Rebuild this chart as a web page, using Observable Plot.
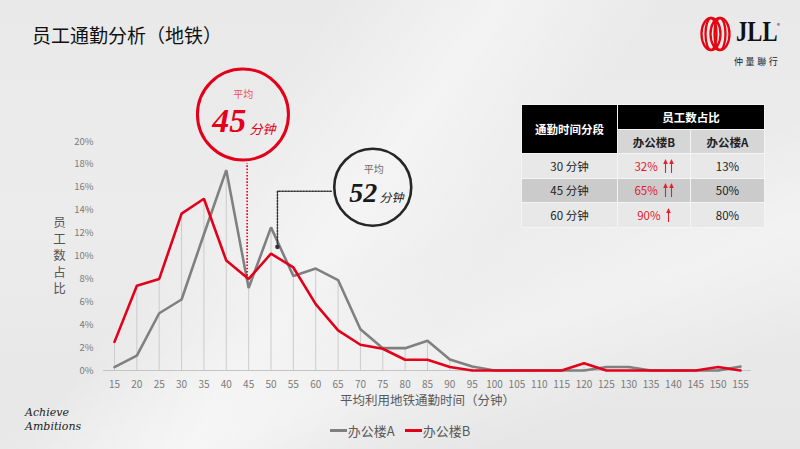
<!DOCTYPE html>
<html>
<head>
<meta charset="utf-8">
<script src="https://cdn.jsdelivr.net/npm/d3@7"></script>
<script src="https://cdn.jsdelivr.net/npm/@observablehq/plot@0.6"></script>
<style>
  html, body { margin: 0; padding: 0; }
  body { width: 800px; height: 449px; overflow: hidden; font-family: "Noto Sans CJK SC", "Noto Sans", sans-serif; }
  #wrap {
    position: relative; width: 800px; height: 449px; overflow: hidden;
    background:
      linear-gradient(125deg, rgba(255,255,255,0) 30%, rgba(255,255,255,0.45) 45%, rgba(255,255,255,0) 60%),
      linear-gradient(160deg, rgba(255,255,255,0) 55%, rgba(255,255,255,0.35) 70%, rgba(255,255,255,0) 85%),
      linear-gradient(180deg, #e9e9e9 0%, #ececec 50%, #e6e6e6 100%);
  }
  #wrap svg.plot { position: absolute; left: 0; top: 0; }
  .abs { position: absolute; }
  #title { left: 32px; top: 21px; font-size: 19px; color: #111; letter-spacing: 0px; }
  #ylabel { left: 52px; top: 216px; font-size: 12.5px; line-height: 14px; letter-spacing: 4px; color: #555; writing-mode: vertical-rl; text-orientation: upright; }
  #legend { top: 421px; left: 0; width: 800px; display: flex; justify-content: center; font-size: 13px; color: #595959; padding-left: 0px; }
  #legend .item { display: flex; align-items: center; margin: 0 5px; }
  #legend .sw { display: inline-block; width: 17px; height: 2.6px; margin-right: 1px; }
  #achieve { left: 25px; top: 406px; font-family: "DejaVu Serif", serif; font-style: italic; font-size: 11px; line-height: 14px; color: #222; }
  table#tbl { position: absolute; left: 521px; top: 104px; border-collapse: collapse; font-size: 11.5px; color: #222; }
  #tbl td, #tbl th { border: 1.2px solid #f4f4f4; padding: 0; text-align: center; }
  #tbl th { background: #000; color: #fff; font-weight: bold; }
  #tbl th.sub { background: #d6d6d6; color: #222; }
  #tbl .r1 td, #tbl .r3 td { background: #e8e8e8; }
  #tbl .r2 td { background: #cbcbcb; }
  #tbl .red { color: #e3202c; }
  #logo { left: 698px; top: 14px; }
  #jll { left: 736px; top: 14px; font-family: "Liberation Serif", serif; font-weight: bold; font-size: 29px; color: #111; transform: scaleX(0.78); transform-origin: left top; line-height: 34px; }
  #reg { left: 777px; top: 21px; font-size: 6px; color: #111; }
  #cn { left: 734px; top: 55px; font-size: 9px; letter-spacing: 2.6px; color: #222; }
</style>
</head>
<body>
<div id="wrap">
  <div id="title" class="abs">员工通勤分析（地铁）</div>
  <div id="ylabel" class="abs"></div>
  <div id="legend" class="abs"></div>
  <div id="achieve" class="abs">Achieve<br>Ambitions</div>
  <svg id="logo" class="abs" width="38" height="40" viewBox="698 14 38 40">
    <g fill="none" stroke="#e30613" stroke-width="2.3">
      <ellipse cx="711" cy="34" rx="9.5" ry="16"/>
      <ellipse cx="711" cy="34" rx="5.5" ry="16"/>
      <ellipse cx="720" cy="34" rx="9.5" ry="16"/>
      <ellipse cx="720" cy="34" rx="5.5" ry="16"/>
    </g>
  </svg>
  <div id="jll" class="abs">JLL</div>
  <div id="reg" class="abs">®</div>
  <div id="cn" class="abs">仲量聯行</div>
</div>
<script>
// ---------- data ----------
const minutes = [15,20,25,30,35,40,45,50,55,60,65,70,75,80,85,90,95,100,105,110,115,120,125,130,135,140,145,150,155];
const buildingA = [0.3,1.3,5.0,6.2,11.9,17.5,7.2,12.5,8.25,8.9,7.9,3.6,1.95,1.95,2.6,0.96,0.35,0,0,0,0,0,0.3,0.3,0,0,0,0,0.35];
const buildingB = [2.5,7.4,8.0,13.7,15.0,9.6,8.0,10.2,9.0,5.8,3.5,2.25,1.9,0.94,0.94,0.3,0,0,0,0,0,0.64,0,0,0,0,0,0.3,0];
const seriesNames = ["办公楼A", "办公楼B"];
const seriesColors = ["#808080", "#e2001a"];
const yTicks = [0,2,4,6,8,10,12,14,16,18,20];
const xLabel = "平均利用地铁通勤时间（分钟）";
const yLabel = "员工数占比";
const avgLabel = "平均";
const avgUnit = "分钟";
const avgB = 45;   // 办公楼B average
const avgA = 52;   // 办公楼A average

const tableHead = ["通勤时间分段", "员工数占比"];
const tableSubHead = ["办公楼B", "办公楼A"];
const tableRows = ["30 分钟", "45 分钟", "60 分钟"];
const tableB = ["32%", "65%", "90%"];
const tableA = ["13%", "50%", "80%"];
const tableArrows = [2, 2, 1];

// ---------- derived ----------
const rows = [];
minutes.forEach((m, i) => {
  rows.push({x: m, y: buildingA[i], s: seriesNames[0]});
  rows.push({x: m, y: buildingB[i], s: seriesNames[1]});
});
const drops = minutes.map((m, i) => ({x: m, y: Math.max(buildingA[i], buildingB[i])}));
function interp(xs, ys, v) {
  for (let i = 0; i < xs.length - 1; i++) {
    if (v >= xs[i] && v <= xs[i+1]) {
      const t = (v - xs[i]) / (xs[i+1] - xs[i]);
      return ys[i] + t * (ys[i+1] - ys[i]);
    }
  }
  return 0;
}
const avgBy = interp(minutes, buildingB, avgB);
const avgAy = interp(minutes, buildingA, avgA);

const red = seriesColors[1];
const dark = "#262626";
const serif = "'Liberation Serif', 'DejaVu Serif', serif";
const cjk = "'Noto Sans CJK SC', sans-serif";

// leader-line layout (in chart units): where the dotted leaders meet the circles
const leaderTopB = 18.1;
const leaderTopA = 15.66;
const leaderEndA = 64.2;

const chart = Plot.plot({
  width: 800, height: 449,
  marginLeft: 114, marginRight: 60, marginTop: 141, marginBottom: 79,
  style: {background: "transparent", fontFamily: cjk, overflow: "visible"},
  x: {domain: [15, 155]},
  y: {domain: [0, 20]},
  marks: [
    Plot.ruleX(drops, {x: "x", y1: 0, y2: "y", stroke: "#cccccc", strokeWidth: 1}),
    Plot.ruleY([0], {stroke: "#c4c4c4", strokeWidth: 1, insetLeft: -11, insetRight: -11}),
    Plot.axisX({ticks: minutes, tickFormat: d => String(d), tickSize: 0, tickPadding: 10, fontSize: 10, fill: "#7a7a7a", label: null}),
    Plot.axisY({ticks: yTicks, tickFormat: d => d + "%", tickSize: 0, tickPadding: 21, fontSize: 9.5, fill: "#7a7a7a", label: null}),
    Plot.line(rows, {x: "x", y: "y", z: "s", stroke: d => seriesColors[seriesNames.indexOf(d.s)], strokeWidth: 2.6, strokeLinejoin: "miter"}),
    // annotation B (red, 45)
    Plot.link([avgB], {x1: d => d, x2: d => d, y1: () => avgBy, y2: () => leaderTopB, dx: -1.5, stroke: red, strokeWidth: 1.6, strokeDasharray: "1.6,1.6"}),
    Plot.dot([avgB], {x: d => d, frameAnchor: "top", dx: -5.7, dy: -27, r: 45.5, stroke: red, strokeWidth: 3, fill: "none"}),
    Plot.text([avgB], {x: d => d, frameAnchor: "top", text: () => avgLabel, dx: -5.5, dy: -50.5, fontSize: 10, fill: "#e8505a", fontFamily: cjk}),
    Plot.text([avgB], {x: d => d, frameAnchor: "top", text: d => String(d), lineAnchor: "bottom", dx: -19.5, dy: -10, fontSize: 34, fontWeight: "bold", fontStyle: "italic", fill: red, fontFamily: serif}),
    Plot.text([avgB], {x: d => d, frameAnchor: "top", text: () => avgUnit, lineAnchor: "bottom", textAnchor: "start", dx: 0.8, dy: -8, fontSize: 13, fontStyle: "italic", fill: red, fontFamily: cjk}),
    // annotation A (dark, 52)
    Plot.line([[avgA, avgAy], [avgA, leaderTopA], [leaderEndA, leaderTopA]], {x: d => d[0], y: d => d[1], dx: -2.5, stroke: "#333", strokeWidth: 1.5, strokeDasharray: "1.5,1.5"}),
    Plot.dot([avgA], {x: d => d, y: () => avgAy, dx: -2.5, r: 2.3, fill: "#333", stroke: "none"}),
    Plot.dot([avgA], {x: d => d, frameAnchor: "top", dx: 92.8, dy: 45.7, r: 38.5, stroke: dark, strokeWidth: 2.6, fill: "none"}),
    Plot.text([avgA], {x: d => d, frameAnchor: "top", text: () => avgLabel, dx: 93.8, dy: 24.8, fontSize: 10, fill: "#6b6b6b", fontFamily: cjk}),
    Plot.text([avgA], {x: d => d, frameAnchor: "top", text: d => String(d), lineAnchor: "bottom", dx: 83.3, dy: 60.5, fontSize: 28, fontWeight: "bold", fontStyle: "italic", fill: "#1a1a1a", fontFamily: serif}),
    Plot.text([avgA], {x: d => d, frameAnchor: "top", text: () => avgUnit, lineAnchor: "bottom", textAnchor: "start", dx: 99.5, dy: 60.7, fontSize: 12, fontStyle: "italic", fill: "#1a1a1a", fontFamily: cjk}),
    // x axis label
    Plot.text([xLabel], {frameAnchor: "bottom", text: d => d, dy: 34, fontSize: 12.5, fill: "#595959", fontFamily: cjk})
  ]
});
chart.classList.add("plot");
const wrap = document.getElementById("wrap");
wrap.insertBefore(chart, wrap.firstChild);

// y label (stacked characters, one text)
document.getElementById("ylabel").textContent = yLabel;

// legend
document.getElementById("legend").innerHTML = seriesNames.map((n, i) =>
  `<span class="item"><span class="sw" style="background:${seriesColors[i]}"></span>${n}</span>`).join("");

// table
function arrows(n) {
  let s = "";
  for (let k = 0; k < n; k++) {
    s += `<svg width="5" height="14" viewBox="0 0 5 14" style="vertical-align:-2px;margin-left:${k ? 0.5 : 0}px"><line x1="2.5" y1="14" x2="2.5" y2="4" stroke="#e3202c" stroke-width="1.1"/><path d="M0.2 5 L2.5 0 L4.8 5 Z" fill="#e3202c"/></svg>`;
  }
  return s;
}
let html = `<table id="tbl">
<tr style="height:25px"><th rowspan="2" style="width:95px">${tableHead[0]}</th><th colspan="2">${tableHead[1]}</th></tr>
<tr style="height:24px"><th class="sub" style="width:72px">${tableSubHead[0]}</th><th class="sub" style="width:73px">${tableSubHead[1]}</th></tr>`;
tableRows.forEach((r, i) => {
  html += `<tr class="r${i+1}" style="height:24.5px"><td>${r}</td><td><span class="red">${tableB[i]}</span>&nbsp;&nbsp;${arrows(tableArrows[i])}</td><td>${tableA[i]}</td></tr>`;
});
html += `</table>`;
wrap.insertAdjacentHTML("beforeend", html);
</script>
</body>
</html>
